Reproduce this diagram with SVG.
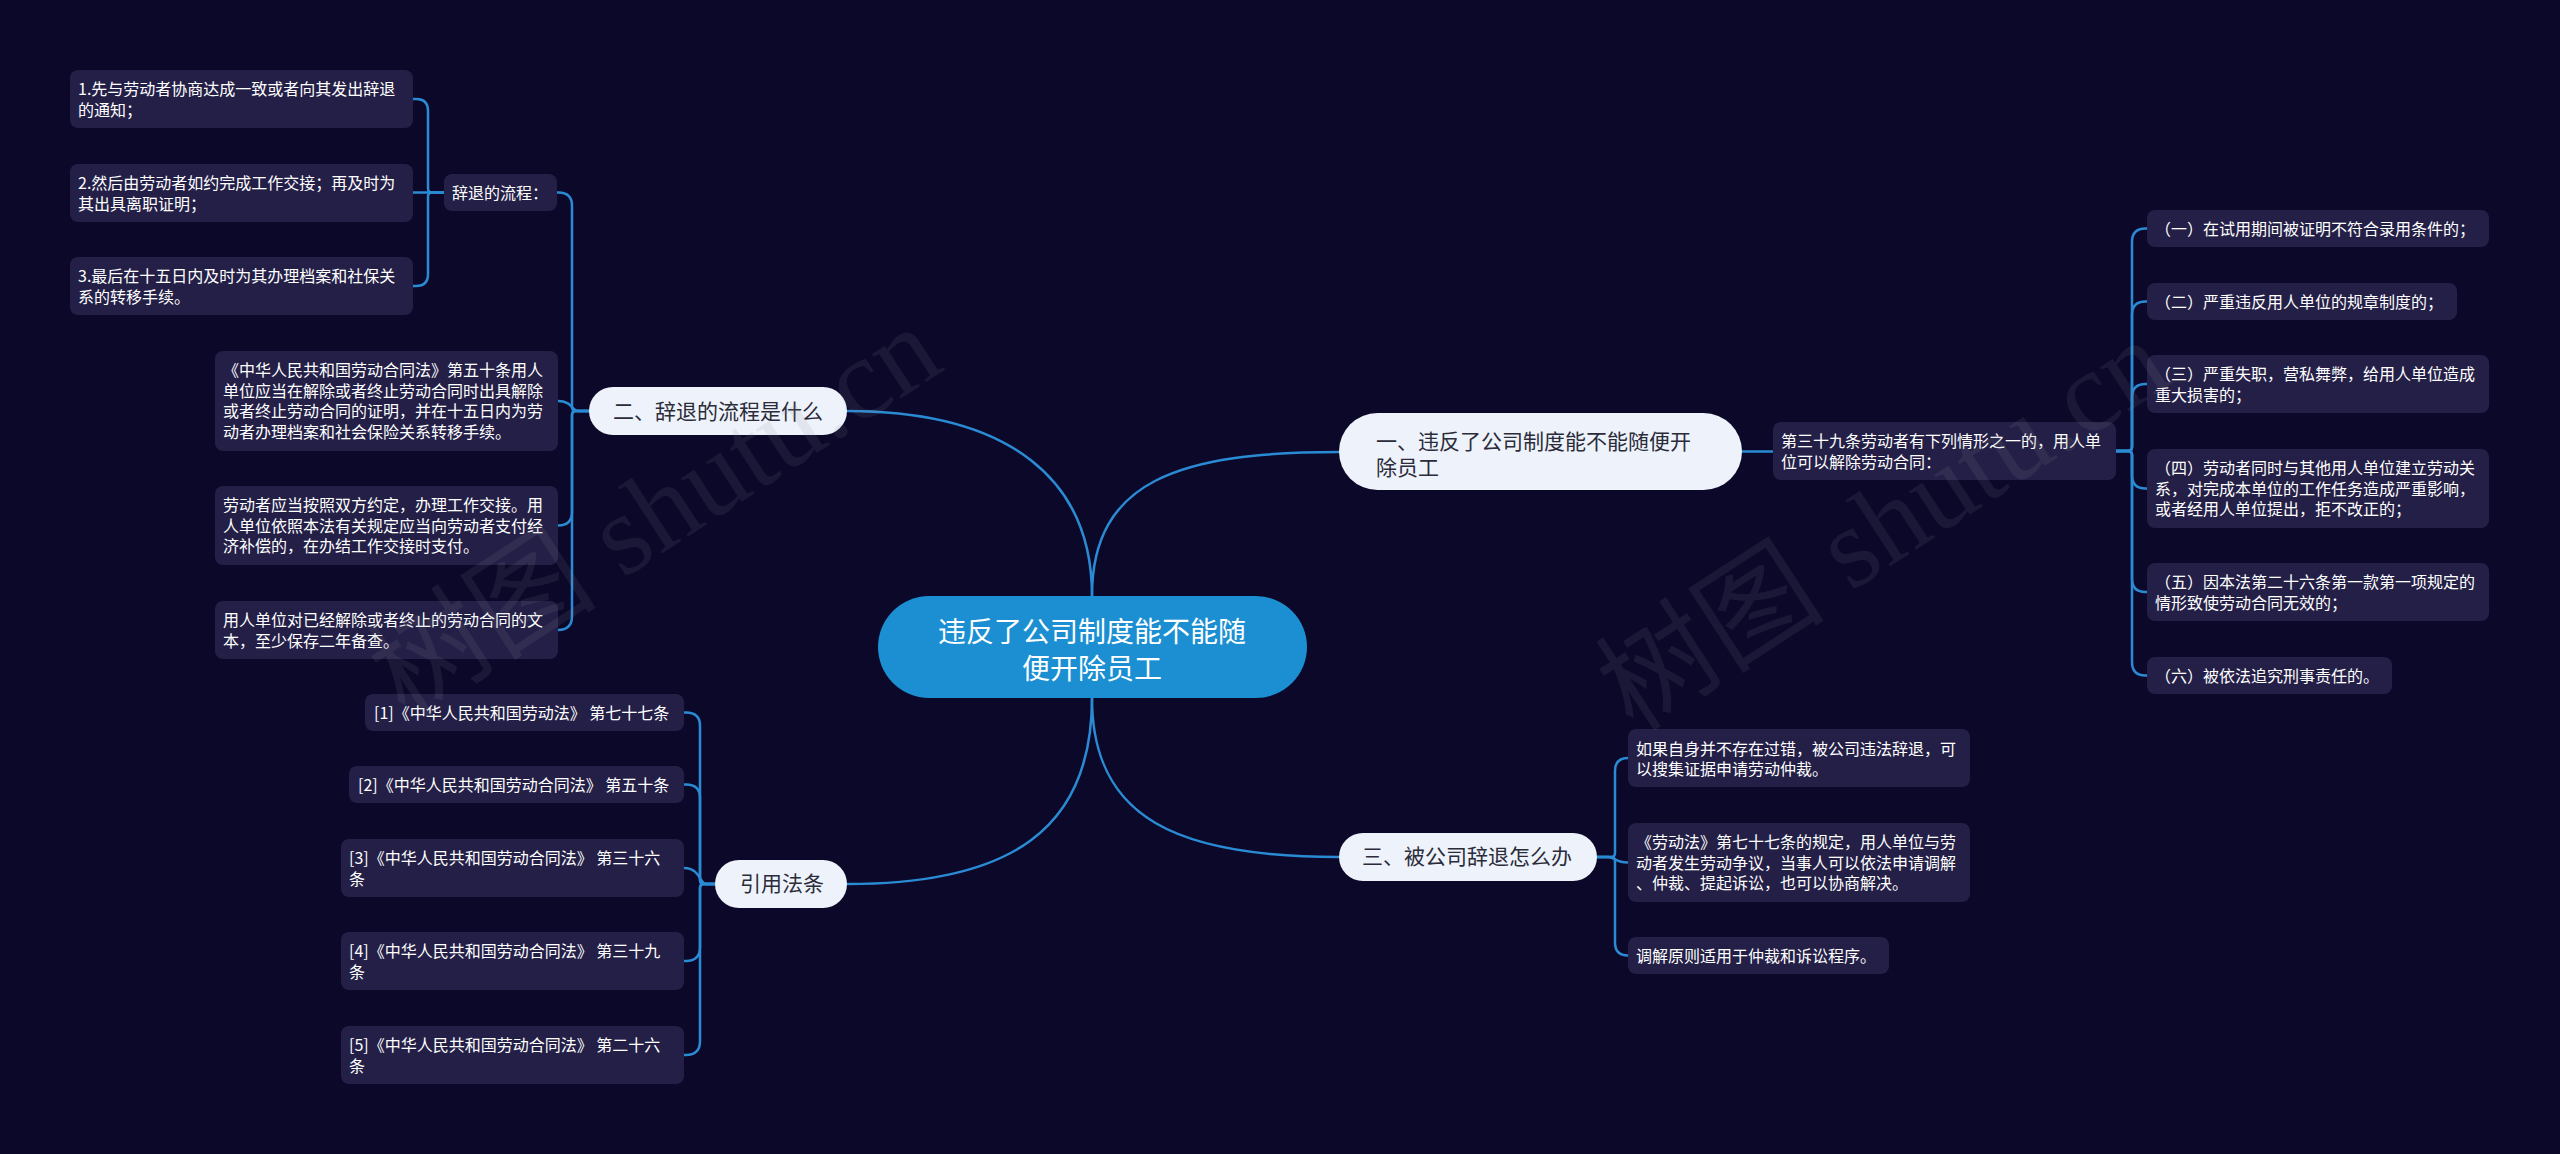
<svg xmlns="http://www.w3.org/2000/svg" width="2560" height="1154" viewBox="0 0 2560 1154">
<style>
.bg{fill:#0b0829}
.box{fill:#241f47}
.bt{font-family:"Noto Sans CJK SC","Noto Sans",sans-serif;font-size:16px;fill:#ffffff}
.main{fill:#eef3fb}
.mt{font-family:"Noto Sans CJK SC","Noto Sans",sans-serif;font-size:21px;fill:#2b2b3a}
.root{fill:#1b8fd2}
.rt{font-family:"Noto Sans CJK SC","Noto Sans",sans-serif;font-size:28px;fill:#ffffff}
.ln{fill:none;stroke:#2a8bd4;stroke-width:2.5;stroke-linecap:round}
.wm{font-family:"Liberation Serif","Noto Sans CJK SC",serif;font-size:115px;fill:#8a8a9a;fill-opacity:0.13}
</style>
<rect class="bg" x="0" y="0" width="2560" height="1154"/>
<g id="connectors">
<path class="ln" d="M1092,596 C1092,480 1180,452 1339,452"/>
<path class="ln" d="M1092,596 C1092,480 1010,411 847,411"/>
<path class="ln" d="M1092,698 C1092,820 1180,857 1339,857"/>
<path class="ln" d="M1092,698 C1092,830 1010,884 847,884"/>
<path class="ln" d="M1742,451.5 H1773"/>
<path class="ln" d="M2116,451 H2128 Q2132,451 2132,447 V242 Q2132,228.5 2145.5,228.5 H2147"/>
<path class="ln" d="M2116,451 H2128 Q2132,451 2132,447 V315 Q2132,301.5 2145.5,301.5 H2147"/>
<path class="ln" d="M2116,451 H2128 Q2132,451 2132,447 V397.5 Q2132,384 2145.5,384 H2147"/>
<path class="ln" d="M2116,451 H2128 Q2132,451 2132,455 V475 Q2132,488.5 2145.5,488.5 H2147"/>
<path class="ln" d="M2116,451 H2128 Q2132,451 2132,455 V578.5 Q2132,592 2145.5,592 H2147"/>
<path class="ln" d="M2116,451 H2128 Q2132,451 2132,455 V662 Q2132,675.5 2145.5,675.5 H2147"/>
<path class="ln" d="M1597,857 H1611 Q1615,857 1615,853 V771 Q1615,758 1628,758"/>
<path class="ln" d="M1597,857 H1608 C1615,857 1615,862.5 1628,862.5"/>
<path class="ln" d="M1597,857 H1611 Q1615,857 1615,861 V942.5 Q1615,955.5 1628,955.5"/>
<path class="ln" d="M589,411 H576 Q572,411 572,407 V206 Q572,192.5 558.5,192.5 H557"/>
<path class="ln" d="M589,411 H578 C572,411 572,401 558,401"/>
<path class="ln" d="M589,411 H576 Q572,411 572,415 V512 Q572,525.5 558,525.5"/>
<path class="ln" d="M589,411 H576 Q572,411 572,415 V616 Q572,630 558,630"/>
<path class="ln" d="M444,192.5 H432 Q428,192.5 428,188.5 V111 Q428,99 416,99 H413"/>
<path class="ln" d="M444,192.5 H413"/>
<path class="ln" d="M444,192.5 H432 Q428,192.5 428,196.5 V274 Q428,286 416,286 H413"/>
<path class="ln" d="M715,884 H704 Q700,884 700,880 V726 Q700,712.5 686,712.5 H684"/>
<path class="ln" d="M715,884 H704 Q700,884 700,880 V798 Q700,784.5 686,784.5 H684"/>
<path class="ln" d="M715,884 H706 C700,884 700,868 684,868"/>
<path class="ln" d="M715,884 H704 Q700,884 700,888 V947 Q700,961 686,961 H684"/>
<path class="ln" d="M715,884 H704 Q700,884 700,888 V1041 Q700,1055 686,1055 H684"/>
</g>
<g id="root">
<rect class="root" x="878" y="596" width="429" height="102" rx="51"/>
<text class="rt" x="1092" y="642" text-anchor="middle">违反了公司制度能不能随</text>
<text class="rt" x="1092" y="679" text-anchor="middle">便开除员工</text>
</g>
<g id="b1">
<rect class="main" x="1339" y="413" width="403" height="77" rx="38.5"/>
<text class="mt" x="1376" y="449">一、违反了公司制度能不能随便开</text>
<text class="mt" x="1376" y="475">除员工</text>
</g>
<g id="b1-art39">
<rect class="box" x="1773" y="422" width="343" height="58" rx="8"/>
<text class="bt" x="1781" y="447">第三十九条劳动者有下列情形之一的，用人单</text>
<text class="bt" x="1781" y="467.5">位可以解除劳动合同：</text>
</g>
<g id="r1">
<rect class="box" x="2147" y="210" width="342" height="37" rx="8"/>
<text class="bt" x="2155" y="234.5">（一）在试用期间被证明不符合录用条件的；</text>
</g>
<g id="r2">
<rect class="box" x="2147" y="283" width="310" height="37" rx="8"/>
<text class="bt" x="2155" y="307.5">（二）严重违反用人单位的规章制度的；</text>
</g>
<g id="r3">
<rect class="box" x="2147" y="355" width="342" height="58" rx="8"/>
<text class="bt" x="2155" y="380">（三）严重失职，营私舞弊，给用人单位造成</text>
<text class="bt" x="2155" y="400.5">重大损害的；</text>
</g>
<g id="r4">
<rect class="box" x="2147" y="449" width="342" height="79" rx="8"/>
<text class="bt" x="2155" y="474">（四）劳动者同时与其他用人单位建立劳动关</text>
<text class="bt" x="2155" y="494.5">系，对完成本单位的工作任务造成严重影响，</text>
<text class="bt" x="2155" y="515">或者经用人单位提出，拒不改正的；</text>
</g>
<g id="r5">
<rect class="box" x="2147" y="563" width="342" height="58" rx="8"/>
<text class="bt" x="2155" y="588">（五）因本法第二十六条第一款第一项规定的</text>
<text class="bt" x="2155" y="608.5">情形致使劳动合同无效的；</text>
</g>
<g id="r6">
<rect class="box" x="2147" y="657" width="245" height="37" rx="8"/>
<text class="bt" x="2155" y="681.5">（六）被依法追究刑事责任的。</text>
</g>
<g id="b3">
<rect class="main" x="1339" y="833" width="258" height="48" rx="24"/>
<text class="mt" x="1362" y="864">三、被公司辞退怎么办</text>
</g>
<g id="b3-c1">
<rect class="box" x="1628" y="729" width="342" height="58" rx="8"/>
<text class="bt" x="1636" y="754.5">如果自身并不存在过错，被公司违法辞退，可</text>
<text class="bt" x="1636" y="775">以搜集证据申请劳动仲裁。</text>
</g>
<g id="b3-c2">
<rect class="box" x="1628" y="823" width="342" height="79" rx="8"/>
<text class="bt" x="1636" y="848">《劳动法》第七十七条的规定，用人单位与劳</text>
<text class="bt" x="1636" y="868.5">动者发生劳动争议，当事人可以依法申请调解</text>
<text class="bt" x="1636" y="889">、仲裁、提起诉讼，也可以协商解决。</text>
</g>
<g id="b3-c3">
<rect class="box" x="1628" y="937" width="261" height="37" rx="8"/>
<text class="bt" x="1636" y="961.5">调解原则适用于仲裁和诉讼程序。</text>
</g>
<g id="b2">
<rect class="main" x="589" y="387" width="258" height="48" rx="24"/>
<text class="mt" x="613" y="419">二、辞退的流程是什么</text>
</g>
<g id="b2-proc">
<rect class="box" x="444" y="174" width="113" height="37" rx="8"/>
<text class="bt" x="452" y="198.5">辞退的流程：</text>
</g>
<g id="proc-1">
<rect class="box" x="70" y="70" width="343" height="58" rx="8"/>
<text class="bt" x="78" y="95">1.先与劳动者协商达成一致或者向其发出辞退</text>
<text class="bt" x="78" y="115.5">的通知；</text>
</g>
<g id="proc-2">
<rect class="box" x="70" y="164" width="343" height="58" rx="8"/>
<text class="bt" x="78" y="189">2.然后由劳动者如约完成工作交接；再及时为</text>
<text class="bt" x="78" y="209.5">其出具离职证明；</text>
</g>
<g id="proc-3">
<rect class="box" x="70" y="257" width="343" height="58" rx="8"/>
<text class="bt" x="78" y="282">3.最后在十五日内及时为其办理档案和社保关</text>
<text class="bt" x="78" y="302.5">系的转移手续。</text>
</g>
<g id="b2-c2">
<rect class="box" x="215" y="351" width="343" height="100" rx="8"/>
<text class="bt" x="223" y="376">《中华人民共和国劳动合同法》第五十条用人</text>
<text class="bt" x="223" y="396.5">单位应当在解除或者终止劳动合同时出具解除</text>
<text class="bt" x="223" y="417">或者终止劳动合同的证明，并在十五日内为劳</text>
<text class="bt" x="223" y="437.5">动者办理档案和社会保险关系转移手续。</text>
</g>
<g id="b2-c3">
<rect class="box" x="215" y="486" width="343" height="79" rx="8"/>
<text class="bt" x="223" y="511">劳动者应当按照双方约定，办理工作交接。用</text>
<text class="bt" x="223" y="531.5">人单位依照本法有关规定应当向劳动者支付经</text>
<text class="bt" x="223" y="552">济补偿的，在办结工作交接时支付。</text>
</g>
<g id="b2-c4">
<rect class="box" x="215" y="601" width="343" height="58" rx="8"/>
<text class="bt" x="223" y="626">用人单位对已经解除或者终止的劳动合同的文</text>
<text class="bt" x="223" y="646.5">本，至少保存二年备查。</text>
</g>
<g id="b4">
<rect class="main" x="715" y="860" width="132" height="48" rx="24"/>
<text class="mt" x="740" y="891">引用法条</text>
</g>
<g id="ref1">
<rect class="box" x="365" y="694" width="319" height="37" rx="8"/>
<text class="bt" x="374" y="718.5">[1]《中华人民共和国劳动法》 第七十七条</text>
</g>
<g id="ref2">
<rect class="box" x="349" y="766" width="335" height="37" rx="8"/>
<text class="bt" x="358" y="790.5">[2]《中华人民共和国劳动合同法》 第五十条</text>
</g>
<g id="ref3">
<rect class="box" x="341" y="839" width="343" height="58" rx="8"/>
<text class="bt" x="349" y="864">[3]《中华人民共和国劳动合同法》 第三十六</text>
<text class="bt" x="349" y="884.5">条</text>
</g>
<g id="ref4">
<rect class="box" x="341" y="932" width="343" height="58" rx="8"/>
<text class="bt" x="349" y="957">[4]《中华人民共和国劳动合同法》 第三十九</text>
<text class="bt" x="349" y="977.5">条</text>
</g>
<g id="ref5">
<rect class="box" x="341" y="1026" width="343" height="58" rx="8"/>
<text class="bt" x="349" y="1051">[5]《中华人民共和国劳动合同法》 第二十六</text>
<text class="bt" x="349" y="1071.5">条</text>
</g>
<g id="watermarks">
<text class="wm" x="657" y="550" text-anchor="middle" transform="rotate(-33 657 515)">树图 shutu.cn</text>
<text class="wm" x="1885" y="563" text-anchor="middle" transform="rotate(-33 1885 528)">树图 shutu.cn</text>
</g>
</svg>
